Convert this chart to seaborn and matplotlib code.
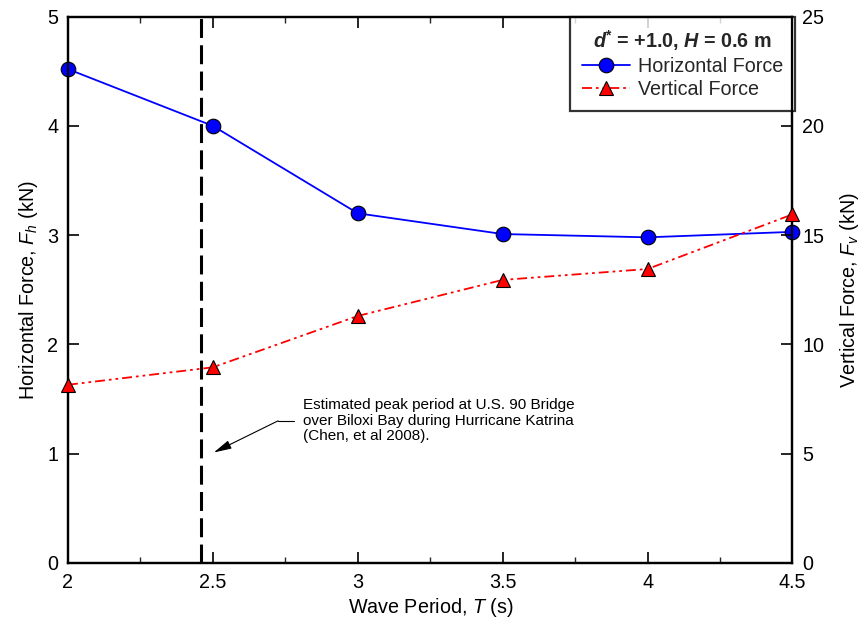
import matplotlib
matplotlib.use("Agg")
import matplotlib.pyplot as plt
import seaborn as sns
import pandas as pd
from matplotlib.lines import Line2D

sns.set_theme(style="white")
plt.rcParams['font.family'] = ['Liberation Sans', 'DejaVu Sans']
plt.rcParams['mathtext.fontset'] = 'custom'
plt.rcParams['mathtext.rm'] = 'Liberation Sans'
plt.rcParams['mathtext.it'] = 'Liberation Sans:italic'
plt.rcParams['mathtext.bf'] = 'Liberation Sans:bold'
plt.rcParams['mathtext.bfit'] = 'Liberation Sans:italic:bold'

# Data
periods = [2.0, 2.5, 3.0, 3.5, 4.0, 4.5]
horizontal_force = [4.52, 4.00, 3.20, 3.01, 2.98, 3.03]
vertical_force = [8.15, 8.95, 11.3, 12.95, 13.45, 15.95]
peak_period = 2.46
x_ticks = [2, 2.5, 3, 3.5, 4, 4.5]
x_tick_labels = ["2", "2.5", "3", "3.5", "4", "4.5"]
left_ticks = [0, 1, 2, 3, 4, 5]
right_ticks = [0, 5, 10, 15, 20, 25]

df = pd.DataFrame({"T": periods, "Fh": horizontal_force, "Fv": vertical_force})

FS = 14.2
RED_DASH = [5.5, 2.2, 1.5, 2.2, 1.5, 2.2]

fig = plt.figure(figsize=(8.64, 6.25), dpi=100)
ax = fig.add_axes([0.0787, 0.0995, 0.8385, 0.8738])
ax2 = ax.twinx()

sns.lineplot(data=df, x="T", y="Fh", ax=ax, color="#0000FF", lw=1.3,
             marker="o", markersize=10.5, markerfacecolor="#0000FF",
             markeredgecolor="black", markeredgewidth=0.8, clip_on=False, zorder=5)
sns.lineplot(data=df, x="T", y="Fv", ax=ax2, color="#FF0000", lw=1.3,
             marker="^", markersize=10.5, markerfacecolor="#FF0000",
             markeredgecolor="black", markeredgewidth=0.8, clip_on=False, zorder=5)
for l in ax2.lines:
    l.set_dashes(RED_DASH)

ax.axvline(peak_period, color="black", lw=2.2, dashes=(6.2, 2.4), zorder=3)

ax.set_xlim(2, 4.5)
ax.set_ylim(0, 5)
ax2.set_ylim(0, 25)
ax.set_xticks(x_ticks)
ax.set_xticklabels(x_tick_labels)
ax.set_xticks([2.25, 2.75, 3.25, 3.75, 4.25], minor=True)
ax.set_yticks(left_ticks)
ax2.set_yticks(right_ticks)

for a in (ax, ax2):
    for s in a.spines.values():
        s.set_color("black")
        s.set_linewidth(1.6)
    a.grid(False)
ax.tick_params(axis="x", which="major", direction="in", length=8, width=1.2,
               labelsize=FS, pad=7, colors="black", top=True, bottom=True)
ax.tick_params(axis="x", which="minor", direction="in", length=4.5, width=1.0,
               bottom=True, top=True)
ax.tick_params(axis="y", which="major", direction="in", length=8, width=1.2,
               labelsize=FS, pad=7, colors="black")
ax2.tick_params(axis="y", which="major", direction="in", length=8, width=1.2,
                labelsize=FS, pad=7, colors="black")

ax.set_xlabel("Wave Period, $\\mathit{T}$ (s)", fontsize=FS, labelpad=3, color="black")
ax.set_ylabel("Horizontal Force, $\\mathit{F_h}$ (kN)", fontsize=FS, labelpad=5, color="black")
ax2.set_ylabel("Vertical Force, $\\mathit{F_v}$ (kN)", fontsize=FS, labelpad=10, color="black")

# annotation
ax.annotate("", xy=(2.503, 1.01), xytext=(2.725, 1.30),
            arrowprops=dict(arrowstyle="-|>,head_length=0.9,head_width=0.22",
                            color="black", lw=0.8, shrinkA=0, shrinkB=0))
ax.plot([2.725, 2.78], [1.30, 1.30], color="black", lw=0.8)
ax.text(2.81, 1.30, "Estimated peak period at U.S. 90 Bridge\nover Biloxi Bay during Hurricane Katrina\n(Chen, et al 2008).",
        fontsize=11, va="center", ha="left", linespacing=1.15, color="black")

handles = [
    Line2D([], [], color="#0000FF", lw=1.3, marker="o", markersize=10.5,
           markerfacecolor="#0000FF", markeredgecolor="black", markeredgewidth=0.8),
    Line2D([], [], color="#FF0000", lw=1.3, marker="^", markersize=10.5, dashes=RED_DASH,
           markerfacecolor="#FF0000", markeredgecolor="black", markeredgewidth=0.8),
]
leg = ax.legend(handles, ["Horizontal Force", "Vertical Force"],
                title=r"$\mathbfit{d}^{\mathbf{*}}$ = +1.0, $\mathbfit{H}$ = 0.6 m",
                loc="upper right", bbox_to_anchor=(1.003, 1.0), fontsize=FS,
                title_fontproperties={"weight": "bold", "size": FS},
                frameon=True, fancybox=False, edgecolor="black", handlelength=2.4,
                handletextpad=0.4, borderpad=0.6, labelspacing=0.2, borderaxespad=0)
leg.get_frame().set_linewidth(1.6)
leg.set_zorder(10)

fig.savefig("out.png", dpi=100)
